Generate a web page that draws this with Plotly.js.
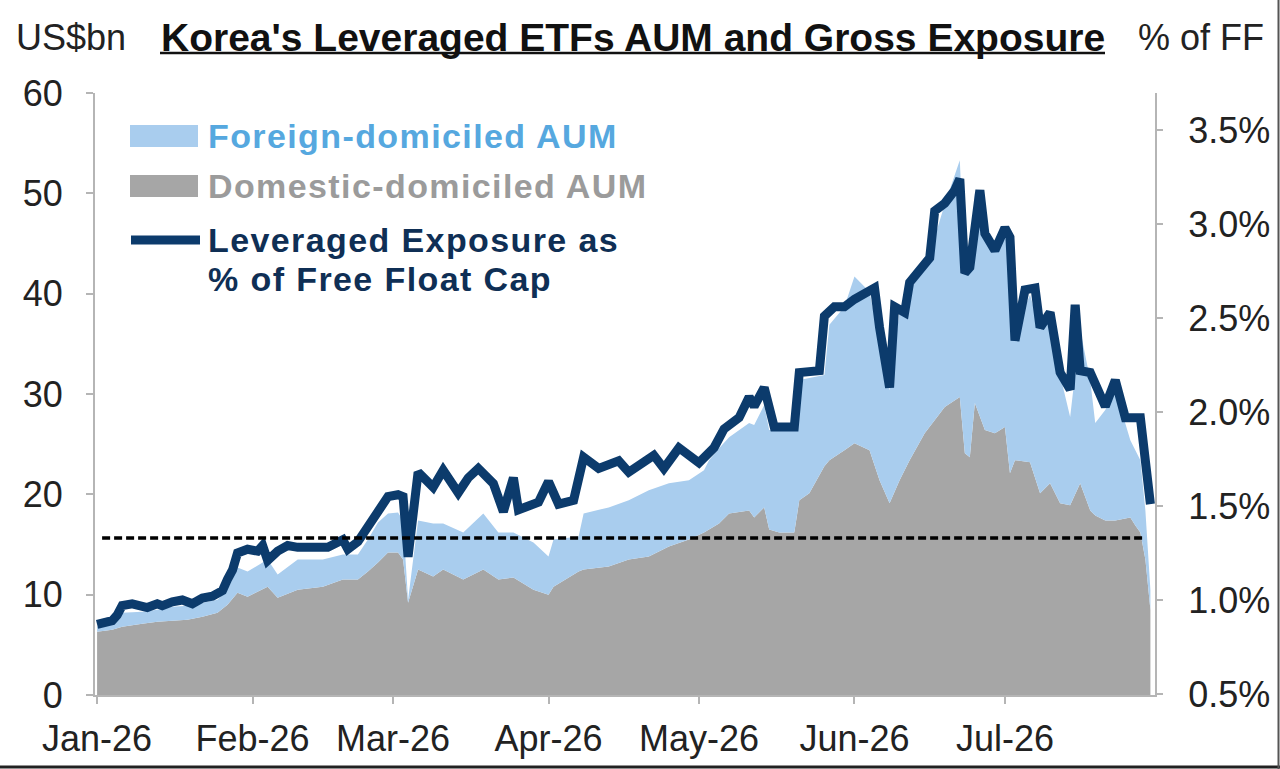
<!DOCTYPE html>
<html><head><meta charset="utf-8">
<script src="https://cdn.plot.ly/plotly-3.0.1.min.js"></script>
<style>html,body{margin:0;padding:0;background:#fff;}#chart{width:1280px;height:769px;}</style>
</head><body><div id="chart"></div>
<script>
// ---------- data ----------
const aumDates = ['2026-01-01','2026-01-04','2026-01-06','2026-01-10','2026-01-13','2026-01-16','2026-01-19','2026-01-22','2026-01-25','2026-01-27','2026-01-29','2026-01-31',
'2026-02-04','2026-02-06','2026-02-10','2026-02-15','2026-02-19','2026-02-22','2026-02-24','2026-02-26','2026-02-28',
'2026-03-02','2026-03-03','2026-03-04','2026-03-06','2026-03-09','2026-03-11','2026-03-15','2026-03-19','2026-03-22','2026-03-25','2026-03-29',
'2026-04-01','2026-04-02','2026-04-07','2026-04-08','2026-04-13','2026-04-17','2026-04-21','2026-04-25','2026-04-29',
'2026-05-02','2026-05-03','2026-05-05','2026-05-07','2026-05-11','2026-05-12','2026-05-14','2026-05-15','2026-05-17','2026-05-20','2026-05-21','2026-05-23','2026-05-26','2026-05-27','2026-05-30',
'2026-06-01','2026-06-04','2026-06-06','2026-06-08','2026-06-10','2026-06-12','2026-06-15','2026-06-19','2026-06-22','2026-06-23','2026-06-24','2026-06-25','2026-06-27','2026-06-29',
'2026-07-01','2026-07-02','2026-07-03','2026-07-06','2026-07-08','2026-07-10','2026-07-12','2026-07-14','2026-07-16','2026-07-18','2026-07-19','2026-07-21','2026-07-23','2026-07-26','2026-07-27','2026-07-28','2026-07-29','2026-07-30'];

const domesticAUM = [6.3,6.5,6.8,7.1,7.3,7.4,7.5,7.8,8.2,9.0,10.2,9.8,
10.8,9.7,10.5,10.8,11.5,11.5,12.3,13.2,14.2,
14.2,13.5,9.2,12.5,11.8,12.5,11.5,12.5,11.5,11.7,10.5,
10.0,10.8,12.3,12.5,12.8,13.5,13.8,14.8,15.5,
16.2,16.5,17.1,18.1,18.4,17.7,18.7,16.5,16.2,16.2,19.4,20.1,22.8,23.4,24.4,
25.1,24.4,21.4,19.1,21.4,23.4,26.1,28.7,29.7,24.1,23.7,29.1,26.4,26.1,
26.7,22.1,23.4,23.2,20.1,21.1,19.1,18.9,21.1,18.4,17.9,17.4,17.4,17.7,16.9,16.2,13.5,8.5];

const foreignAUM = [0.5,0.8,1.4,1.2,1.2,1.4,1.4,1.4,1.3,1.5,2.5,2.5,
2.7,2.3,3.0,2.7,2.5,2.5,3.2,4.0,3.9,
4.0,3.9,0.3,4.9,5.3,4.6,4.7,5.6,4.7,4.5,4.7,
3.8,4.7,3.5,5.6,5.9,5.9,6.6,6.3,5.9,
6.2,6.9,7.5,7.6,8.7,9.2,10.2,9.9,10.2,10.2,12.0,11.5,9.1,13.5,14.3,
16.6,15.8,14.0,11.3,17.0,17.0,16.3,20.2,23.6,18.1,18.7,20.9,20.5,18.1,
19.7,22.8,13.0,16.7,16.3,16.3,12.8,8.8,15.3,13.0,9.2,11.0,13.0,7.7,7.5,7.2,4.9,2.0];

const exposureDates = ['2026-01-01','2026-01-04','2026-01-05','2026-01-06','2026-01-08','2026-01-11','2026-01-13','2026-01-14','2026-01-16','2026-01-18','2026-01-20','2026-01-22','2026-01-24','2026-01-26','2026-01-27','2026-01-28','2026-01-29','2026-01-31',
'2026-02-02','2026-02-03','2026-02-04','2026-02-06','2026-02-08','2026-02-10','2026-02-13','2026-02-16','2026-02-19','2026-02-20','2026-02-22','2026-02-24','2026-02-26','2026-02-28',
'2026-03-02','2026-03-03','2026-03-04','2026-03-06','2026-03-09','2026-03-11','2026-03-14','2026-03-16','2026-03-18','2026-03-21','2026-03-23','2026-03-25','2026-03-26','2026-03-30',
'2026-04-01','2026-04-03','2026-04-06','2026-04-08','2026-04-11','2026-04-15','2026-04-17','2026-04-22','2026-04-24','2026-04-27',
'2026-05-01','2026-05-04','2026-05-06','2026-05-09','2026-05-11','2026-05-12','2026-05-14','2026-05-16','2026-05-20','2026-05-21','2026-05-25','2026-05-26','2026-05-28','2026-05-30',
'2026-06-01','2026-06-05','2026-06-06','2026-06-08','2026-06-09','2026-06-11','2026-06-12','2026-06-15','2026-06-16','2026-06-17','2026-06-19','2026-06-21','2026-06-22','2026-06-23','2026-06-24','2026-06-26','2026-06-27','2026-06-29',
'2026-07-01','2026-07-02','2026-07-03','2026-07-05','2026-07-07','2026-07-08','2026-07-10','2026-07-12','2026-07-14','2026-07-15','2026-07-16','2026-07-18','2026-07-21','2026-07-23','2026-07-25','2026-07-28','2026-07-30'];

const exposurePct = [0.87,0.89,0.92,0.97,0.98,0.96,0.98,0.97,0.99,1.00,0.98,1.01,1.02,1.05,1.11,1.16,1.25,1.27,
1.26,1.29,1.21,1.26,1.29,1.28,1.28,1.28,1.32,1.27,1.31,1.39,1.49,1.55,
1.56,1.55,1.23,1.68,1.60,1.69,1.57,1.65,1.70,1.62,1.47,1.65,1.48,1.52,
1.63,1.51,1.53,1.76,1.70,1.74,1.68,1.77,1.70,1.81,
1.73,1.81,1.91,1.97,2.08,2.03,2.13,1.92,1.92,2.21,2.22,2.51,2.56,2.56,
2.60,2.66,2.45,2.13,2.56,2.53,2.69,2.79,2.82,3.07,3.11,3.18,3.24,2.74,2.77,3.18,2.95,2.86,
2.98,2.93,2.38,2.65,2.66,2.45,2.53,2.21,2.12,2.57,2.22,2.21,2.03,2.17,1.97,1.97,1.51];

const thresholdDates = ['2026-01-02','2026-07-29'];
const thresholdPct = [1.33, 1.33];

const monthTicks = ['2026-01-01','2026-02-01','2026-03-01','2026-04-01','2026-05-01','2026-06-01','2026-07-01'];
const monthLabels = ['Jan-26','Feb-26','Mar-26','Apr-26','May-26','Jun-26','Jul-26'];
const leftTicks = [0,10,20,30,40,50,60];
const rightTicks = [0.5,1.0,1.5,2.0,2.5,3.0,3.5];
const rightTickLabels = ['0.5%','1.0%','1.5%','2.0%','2.5%','3.0%','3.5%'];

const titleText = "Korea's Leveraged ETFs AUM and Gross Exposure";
const leftUnit = 'US$bn';
const rightUnit = '% of FF';
const legendLabels = ['Foreign-domiciled AUM','Domestic-domiciled AUM','Leveraged Exposure as','% of Free Float Cap'];

// ---------- styles ----------
const FONT = 'Liberation Sans, Arial, sans-serif';
const C_BLUE = '#a9cdee', C_GREY = '#a6a6a6', C_NAVY = '#0c3b6c';
const AXC = '#b5b5b5';

const traces = [
  {x: aumDates, y: domesticAUM, type:'scatter', mode:'none', stackgroup:'aum', fillcolor:C_GREY, name:legendLabels[1], hoverinfo:'skip', showlegend:false},
  {x: aumDates, y: foreignAUM, type:'scatter', mode:'none', stackgroup:'aum', fillcolor:C_BLUE, name:legendLabels[0], hoverinfo:'skip', showlegend:false},
  {x: exposureDates, y: exposurePct, type:'scatter', mode:'lines', yaxis:'y2', line:{color:C_NAVY, width:9}, name:'Leveraged Exposure as % of Free Float Cap', hoverinfo:'skip', showlegend:false},
  {x: thresholdDates, y: thresholdPct, type:'scatter', mode:'lines', yaxis:'y2', line:{color:'#000', width:3.5, dash:'8px,4px'}, hoverinfo:'skip', showlegend:false}
];

// plot area: x 95..1155, y 93..695
const PL=95, PW=1060, PB=695, PH=602;
const px = v => (v-PL)/PW;
const py = v => (PB-v)/PH;
const ls = t => '<span style="letter-spacing:1.4px">'+t+'</span>';

const layout = {
  width:1280, height:769,
  margin:{l:95, r:125, t:93, b:74},
  paper_bgcolor:'#fff', plot_bgcolor:'#fff',
  font:{family:FONT, size:36, color:'#222'},
  showlegend:false,
  xaxis:{type:'date', range:['2025-12-31 14:00','2026-07-30 22:00'], tickvals:monthTicks, ticktext:monthLabels,
         showgrid:false, zeroline:false, showline:true, linecolor:AXC, linewidth:2, ticks:'outside', ticklen:7, tickcolor:AXC, tickwidth:2,
         tickfont:{size:36, family:FONT, color:'#222'}, ticklabelstandoff:4},
  yaxis:{range:[0,60], tickvals:leftTicks, showgrid:false, zeroline:false, showline:true, linecolor:AXC, linewidth:2,
         ticks:'outside', ticklen:7, tickcolor:AXC, tickwidth:2, tickfont:{size:36, family:FONT, color:'#222'}, ticklabelstandoff:16},
  yaxis2:{overlaying:'y', side:'right', range:[0.4947,3.697], tickvals:rightTicks, ticktext:rightTickLabels,
          showgrid:false, zeroline:false, showline:true, linecolor:AXC, linewidth:2, ticks:'outside', ticklen:6, tickcolor:AXC, tickwidth:2,
          tickfont:{size:36, family:FONT, color:'#222'}, ticklabelstandoff:18},
  annotations:[
    {text:'<b>'+titleText+'</b>', xref:'paper', yref:'paper', x:px(633), y:py(37), xanchor:'center', yanchor:'middle', showarrow:false, font:{size:39, family:FONT, color:'#111'}},
    {text:leftUnit, xref:'paper', yref:'paper', x:px(14), y:py(37), xanchor:'left', yanchor:'middle', showarrow:false, font:{size:36, family:FONT, color:'#222'}},
    {text:rightUnit, xref:'paper', yref:'paper', x:px(1266), y:py(37), xanchor:'right', yanchor:'middle', showarrow:false, font:{size:36, family:FONT, color:'#222'}},
    {text:'<b>'+ls(legendLabels[0])+'</b>', xref:'paper', yref:'paper', x:px(206), y:py(136), xanchor:'left', yanchor:'middle', showarrow:false, font:{size:34, family:FONT, color:'#56a8df'}},
    {text:'<b>'+ls(legendLabels[1])+'</b>', xref:'paper', yref:'paper', x:px(206), y:py(186), xanchor:'left', yanchor:'middle', showarrow:false, font:{size:34, family:FONT, color:'#9b9b9b'}},
    {text:'<b>'+ls(legendLabels[2])+'</b>', xref:'paper', yref:'paper', x:px(206), y:py(240), xanchor:'left', yanchor:'middle', showarrow:false, font:{size:34, family:FONT, color:'#0f2f55'}},
    {text:'<b>'+ls(legendLabels[3])+'</b>', xref:'paper', yref:'paper', x:px(206), y:py(279), xanchor:'left', yanchor:'middle', showarrow:false, font:{size:34, family:FONT, color:'#0f2f55'}}
  ],
  shapes:[
    {type:'line', xref:'paper', yref:'paper', x0:px(160), x1:px(1105), y0:py(53), y1:py(53), line:{color:'#111', width:2.5}},
    {type:'rect', xref:'paper', yref:'paper', x0:px(130), x1:px(198), y0:py(147), y1:py(125), fillcolor:C_BLUE, line:{width:0}},
    {type:'rect', xref:'paper', yref:'paper', x0:px(130), x1:px(198), y0:py(197), y1:py(175), fillcolor:C_GREY, line:{width:0}},
    {type:'line', xref:'paper', yref:'paper', x0:px(131), x1:px(200), y0:py(240), y1:py(240), line:{color:C_NAVY, width:9}},
    {type:'line', xref:'paper', yref:'paper', x0:px(0), x1:px(1280), y0:py(767), y1:py(767), line:{color:'#222', width:3}},
    {type:'line', xref:'paper', yref:'paper', x0:px(1278.5), x1:px(1278.5), y0:py(0), y1:py(769), line:{color:'#555', width:2}}
  ]
};

Plotly.newPlot('chart', traces, layout, {staticPlot:true, displayModeBar:false});
</script></body></html>
